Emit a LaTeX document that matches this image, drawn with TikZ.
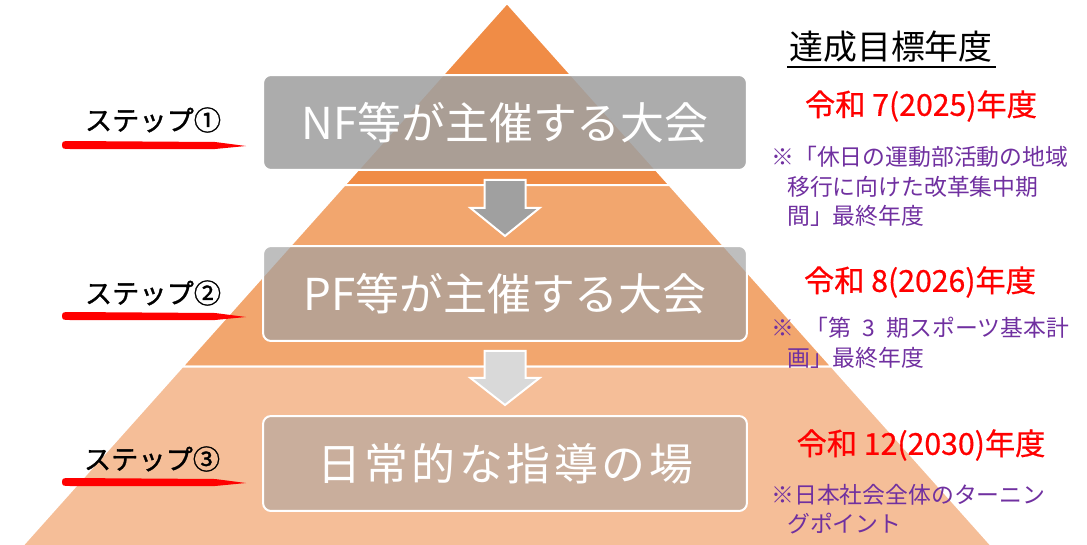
\documentclass[tikz,border=0pt]{standalone}
\usepackage{fontspec}
\setmainfont{Noto Sans CJK JP}
\newfontfamily\widejp{Noto Sans CJK JP}[LetterSpace=8]
\newfontfamily\heavyjp{Noto Sans CJK JP}[FakeBold=1.2]
\newfontfamily\yearjp{Noto Sans CJK JP}[FakeBold=0.6]

\definecolor{bandtop}{RGB}{240,140,70}
\definecolor{bandmid}{RGB}{242,166,110}
\definecolor{bandlow}{RGB}{245,190,152}
\definecolor{boxgray}{RGB}{161,161,161}
\definecolor{arrowdark}{RGB}{160,160,160}
\definecolor{arrowlight}{RGB}{217,217,217}
\definecolor{notepurple}{RGB}{112,48,160}

\tikzset{
    band/.style={draw=white, line width=0.04cm},
    stagebox/.style={draw=white, line width=0.04cm, rounded corners=0.16cm, fill=boxgray,
        text=white, text opacity=1, minimum width=9.68cm, minimum height=1.9cm, inner sep=0pt,
        font=\fontsize{25}{30}\selectfont},
    stagearrow/.style={draw=white, line width=0.04cm},
    steplabel/.style={font=\heavyjp\fontsize{15.5}{18}\selectfont},
    brush/.style={fill=red},
    yearlabel/.style={text=red, font=\yearjp\fontsize{17.2}{18}\selectfont},
    notelabel/.style={text=notepurple, font=\fontsize{13}{17}\selectfont, align=left,
        anchor=north west, inner sep=0pt}
}

\begin{document}
\begin{tikzpicture}[x=0.02cm, y=-0.02cm]
        \useasboundingbox (0,0) rectangle (1087,544);

        \filldraw[band, fill=bandtop] (507,3) -- (669.5,185) -- (344.5,185) -- cycle;
        \filldraw[band, fill=bandmid] (344.5,185) -- (669.5,185) -- (831.6,366.5) -- (182.4,366.5) -- cycle;
        \filldraw[band, fill=bandlow] (182.4,366.5) -- (831.6,366.5) -- (994.6,549) -- (19.4,549) -- cycle;

        \node[stagebox, fill opacity=0.88] (nf) at (505,122.5) {NF等が主催する大会};
        \node[stagebox, fill opacity=0.69] (pf) at (505,293.5) {PF等が主催する大会};
        \node[stagebox, fill opacity=0.52] (daily) at (505,463.5) {\widejp 日常的な指導の場};

        \filldraw[stagearrow, fill=arrowdark] (nf.south) ++(-20.5,9) -- ++(0,28) -- ++(-14,0)
            -- ++(34.5,28) -- ++(34.5,-28) -- ++(-14,0) -- ++(0,-28) -- cycle;
        \filldraw[stagearrow, fill=arrowlight] (pf.south) ++(-20.5,9) -- ++(0,27) -- ++(-14,0)
            -- ++(34.5,27) -- ++(34.5,-27) -- ++(-14,0) -- ++(0,-27) -- cycle;

        \node[steplabel] (step1) at (153,120) {ステップ①};
        \node[steplabel] (step2) at (153,293) {ステップ②};
        \node[steplabel] (step3) at (152,459) {ステップ③};

        \fill[brush] (62,145) .. controls (62,141) and (64,141) .. (70,141) -- (215,142) -- (246,146)
            -- (215,149) -- (70,149) .. controls (64,149) and (62,149) .. (62,145) -- cycle;
        \fill[brush] (62,316) .. controls (62,312) and (64,312) .. (70,312) -- (215,313) -- (246,317)
            -- (215,320) -- (70,320) .. controls (64,320) and (62,320) .. (62,316) -- cycle;
        \fill[brush] (62,482) .. controls (62,478) and (64,478) .. (70,478) -- (215,479) -- (246,483)
            -- (215,486) -- (70,486) .. controls (64,486) and (62,486) .. (62,482) -- cycle;

        \node[font=\fontsize{19.3}{22}\selectfont] (goal) at (891,47) {達成目標年度};
        \draw[line width=0.04cm] (787,67) -- (996,67);

        \node[yearlabel] (year1) at (921,106) {令和 7(2025)年度};
        \node[yearlabel] (year2) at (920,282) {令和 8(2026)年度};
        \node[yearlabel] (year3) at (921,445) {令和 12(2030)年度};

        \node[notelabel] (note1) at (771,145.5) {※「休日の運動部活動の地域\\\hspace*{9pt}移行に向けた改革集中期\\\hspace*{9pt}間」最終年度};
        \node[notelabel] (note2) at (771,316.5) {※\enspace「第\enspace 3\enspace 期スポーツ基本計\\\hspace*{9pt}画」最終年度};
        \node[notelabel] (note3) at (771,483.5) {※日本社会全体のターニン\\\hspace*{9pt}グポイント};
\end{tikzpicture}
\end{document}
